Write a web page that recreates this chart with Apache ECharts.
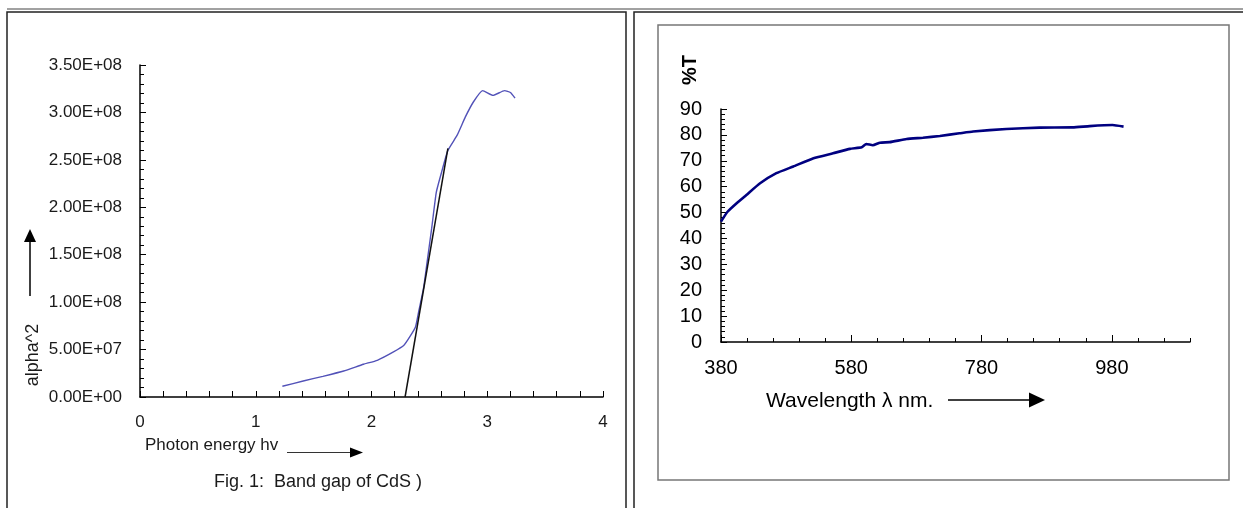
<!DOCTYPE html>
<html>
<head>
<meta charset="utf-8">
<script src="https://cdn.jsdelivr.net/npm/echarts@6/dist/echarts.min.js"></script>
<style>
  html, body { margin: 0; padding: 0; background: #fff; }
  #main { width: 1243px; height: 508px; }
</style>
</head>
<body>
<div id="main"></div>
<script>
// left panel: band gap of CdS
var bandX = [1.23, 1.41, 1.58, 1.76, 1.93, 2.05, 2.19, 2.28, 2.33, 2.38, 2.41, 2.45, 2.48, 2.52, 2.56, 2.61, 2.66, 2.74, 2.81, 2.88, 2.96, 3.05, 3.15, 3.20, 3.24];
var bandY = [1.13e7, 1.69e7, 2.18e7, 2.74e7, 3.45e7, 3.87e7, 4.75e7, 5.45e7, 6.33e7, 7.38e7, 9.15e7, 1.15e8, 1.42e8, 1.78e8, 2.16e8, 2.39e8, 2.60e8, 2.76e8, 2.95e8, 3.11e8, 3.23e8, 3.18e8, 3.23e8, 3.21e8, 3.15e8];
var fitX = [2.29, 2.66];
var fitY = [0, 2.62e8];

// right panel: transmittance
var waveX = [380, 390, 404, 419, 440, 465, 491, 522, 552, 578, 596, 603, 613, 624, 639, 665, 690, 716, 746, 767, 818, 869, 920, 946, 981, 998];
var waveT = [46.5, 50.3, 53.6, 56.8, 61.3, 65.2, 67.8, 71.0, 72.9, 74.6, 75.2, 76.5, 76.0, 77.0, 77.2, 78.4, 78.9, 79.6, 80.6, 81.3, 82.3, 82.8, 82.9, 83.4, 83.8, 83.2];
var waveLabels = [380, 580, 780, 980];
var waveMinor = [];
for (var w = 380; w <= 1100; w += 40) waveMinor.push(w);

function sci(v) {
    if (v === 0) return '0.00E+00';
    var e = Math.floor(Math.log10(Math.abs(v)));
    var m = v / Math.pow(10, e);
    return m.toFixed(2) + 'E+' + (e < 10 ? '0' : '') + e;
}

function pairs(xs, ys) {
    var out = [];
    for (var i = 0; i < xs.length; i++) out.push([xs[i], ys[i]]);
    return out;
}

var fontL = 'Liberation Sans';
var black = '#000';

var myChart = echarts.init(document.getElementById('main'));

var option = {
    animation: false,
    grid: [
        { left: 140, top: 65, width: 463, height: 332 },
        { left: 721, top: 109, width: 469, height: 233 }
    ],
    xAxis: [
        {
            gridIndex: 0, type: 'value', min: 0, max: 4, interval: 1,
            axisLine: { lineStyle: { color: black, width: 1.5 } },
            axisTick: { inside: true, length: 6, lineStyle: { color: black } },
            minorTick: { show: true, splitNumber: 5, length: 6, lineStyle: { color: black } },
            splitLine: { show: false },
            axisLabel: { margin: 17, fontSize: 17, fontFamily: fontL, color: '#1a1a1a' }
        },
        {
            gridIndex: 1, type: 'value', min: 380, max: 1100, position: 'bottom',
            axisLine: { lineStyle: { color: black, width: 1.5 } },
            axisTick: { inside: true, length: 7, customValues: waveLabels, lineStyle: { color: black } },
            splitLine: { show: false },
            axisLabel: { margin: 16, fontSize: 20, fontFamily: fontL, color: black, customValues: waveLabels }
        },
        {
            gridIndex: 1, type: 'value', min: 380, max: 1100, position: 'bottom',
            axisLine: { show: false },
            axisTick: { inside: true, length: 4, customValues: waveMinor, lineStyle: { color: black } },
            splitLine: { show: false },
            axisLabel: { show: false }
        }
    ],
    yAxis: [
        {
            gridIndex: 0, type: 'value', min: 0, max: 3.5e8, interval: 5e7,
            axisLine: { show: true, lineStyle: { color: black, width: 1.5 } },
            axisTick: { show: true, inside: true, length: 6, lineStyle: { color: black } },
            minorTick: { show: true, splitNumber: 5, length: 4, lineStyle: { color: black } },
            splitLine: { show: false },
            axisLabel: { margin: 18, fontSize: 17, fontFamily: fontL, color: '#1a1a1a', formatter: sci }
        },
        {
            gridIndex: 1, type: 'value', min: 0, max: 90, interval: 10,
            axisLine: { show: true, lineStyle: { color: black, width: 1.5 } },
            axisTick: { show: true, inside: true, length: 6, lineStyle: { color: black } },
            minorTick: { show: true, splitNumber: 5, length: 4, lineStyle: { color: black } },
            splitLine: { show: false },
            axisLabel: { margin: 19, fontSize: 20, fontFamily: fontL, color: black }
        }
    ],
    series: [
        {
            type: 'line', xAxisIndex: 0, yAxisIndex: 0,
            data: pairs(bandX, bandY), showSymbol: false, smooth: 0.15,
            lineStyle: { color: '#5252b8', width: 1.4 }
        },
        {
            type: 'line', xAxisIndex: 0, yAxisIndex: 0,
            data: pairs(fitX, fitY), showSymbol: false,
            lineStyle: { color: '#111', width: 1.5 }
        },
        {
            type: 'line', xAxisIndex: 1, yAxisIndex: 1,
            data: pairs(waveX, waveT), showSymbol: false, smooth: 0.15,
            lineStyle: { color: '#000080', width: 2.6 }
        }
    ],
    graphic: [
        // table borders
        { type: 'rect', shape: { x: 7, y: 12, width: 619, height: 520 }, style: { fill: 'none', stroke: '#222', lineWidth: 1.5 } },
        { type: 'rect', shape: { x: 634, y: 12, width: 640, height: 520 }, style: { fill: 'none', stroke: '#222', lineWidth: 1.5 } },
        { type: 'line', shape: { x1: 7, y1: 9, x2: 1243, y2: 9 }, style: { stroke: '#444', lineWidth: 1 } },
        { type: 'rect', shape: { x: 658, y: 25, width: 571, height: 455 }, style: { fill: 'none', stroke: '#777', lineWidth: 1.5 } },

        // left panel texts and arrows
        { type: 'text', x: 33, y: 355, rotation: Math.PI / 2,
          style: { text: 'alpha^2', fill: '#1a1a1a', font: '18px "Liberation Sans"', textAlign: 'center', textVerticalAlign: 'middle' } },
        { type: 'line', shape: { x1: 30, y1: 296, x2: 30, y2: 238 }, style: { stroke: black, lineWidth: 1.5 } },
        { type: 'polygon', shape: { points: [[30, 229], [24, 242], [36, 242]] }, style: { fill: black } },
        { type: 'text', x: 145, y: 445,
          style: { text: 'Photon energy hv', fill: '#1a1a1a', font: '17px "Liberation Sans"', textAlign: 'left', textVerticalAlign: 'middle' } },
        { type: 'line', shape: { x1: 287, y1: 452.5, x2: 352, y2: 452.5 }, style: { stroke: '#333', lineWidth: 1.2 } },
        { type: 'polygon', shape: { points: [[363, 452.5], [350, 447.5], [350, 457.5]] }, style: { fill: black } },
        { type: 'text', x: 318, y: 482,
          style: { text: 'Fig. 1:  Band gap of CdS )', fill: '#1a1a1a', font: '18px "Liberation Sans"', textAlign: 'center', textVerticalAlign: 'middle' } },

        // right panel texts and arrow
        { type: 'text', x: 690, y: 70, rotation: Math.PI / 2,
          style: { text: '%T', fill: black, font: 'bold 20px "Liberation Sans"', textAlign: 'center', textVerticalAlign: 'middle' } },
        { type: 'text', x: 766, y: 401,
          style: { text: 'Wavelength \u03bb nm.', fill: black, font: '21px "Liberation Sans"', textAlign: 'left', textVerticalAlign: 'middle' } },
        { type: 'line', shape: { x1: 948, y1: 400, x2: 1032, y2: 400 }, style: { stroke: black, lineWidth: 1.5 } },
        { type: 'polygon', shape: { points: [[1045, 400], [1029, 392.5], [1029, 407.5]] }, style: { fill: black } }
    ]
};

myChart.setOption(option);
</script>
</body>
</html>
